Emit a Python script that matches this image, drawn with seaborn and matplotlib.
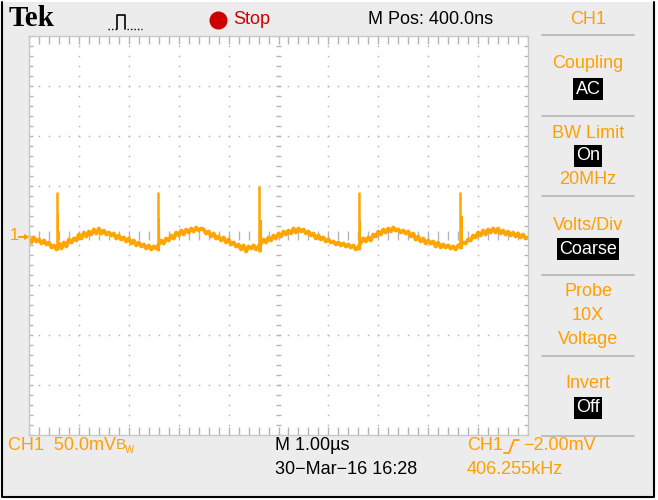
import numpy as np
import matplotlib.pyplot as plt
import seaborn as sns

# CH1 trace, mV, one sample every 0.05 us across the 10 us screen
ch1_mv = [
    -3, -7, -2, -6, -4, -8, -5, -9, -7, -12, -10, -14,
    -8, -13, -7, -11, -4, -7, -3, -5, 1, -3, 3, -1, 4, 1, 6, 2, 7, 2,
    5, 1, 3, 0, 2, -3, 0, -4, -2, -6, -3, -8, -5, -10, -7, -11, -9, -13,
    -10, -14, -11, -13,
    -9, -5, -8, -3, -5, 0, -3, 3, 0, 5, 1, 6, 3, 7, 4, 8, 5, 7,
    6, 2, 4, -1, 2, -3, -1, -5, -2, -7, -4, -9, -7, -11, -9, -14, -10, -16,
    -11, -13, -10, -14, -11,
    -8, -4, -7, -2, -5, 0, -3, 2, -1, 4, 1, 5, 2, 7, 3, 7, 4,
    6, 2, 4, 0, 2, -3, 0, -4, -2, -6, -4, -7, -6, -9, -7, -10, -8, -11,
    -9, -12, -10, -14, -12,
    -7, -3, -6, -2, -5, 1, -1, 4, 1, 6, 3, 7, 4, 8, 5, 6, 3,
    5, 2, 4, -1, 2, -4, -1, -6, -3, -8, -5, -8, -6, -11, -7, -12, -9, -12,
    -10, -13, -11, -14, -10,
    -9, -7, -8, -4, -5, 0, -2, 3, 0, 5, 1, 6, 3, 7, 3, 7, 2,
    5, 1, 4, 0, 3, -1, 2, -2, 1, -3, -2,
]
spike_us = [0.56, 2.585, 4.61, 6.61, 8.64]
spike_top_mv = [44, 44, 50, 44, 44]
spike_low_mv = [-15, -16, -17, -15, -14]
shoulder_mv = [22, 18, 16, 15, 20]

BG = "#ECECEC"
ORANGE = "#FFA000"
TRACE = "#FFA500"
GRID = "#B4B4B4"
FS = 13

sns.set_style("white")
plt.rcParams["font.family"] = ["Liberation Sans", "DejaVu Sans"]

fig = plt.figure(figsize=(6.58, 5.0), dpi=100)
fig.patch.set_facecolor("white")

# full-figure axes in pixel coordinates for the bezel and all labels
bg = fig.add_axes([0, 0, 1, 1])
bg.set_xlim(0, 658)
bg.set_ylim(500, 0)
bg.axis("off")
bg.add_patch(plt.Rectangle((2, 2), 652, 494, facecolor=BG, edgecolor="none"))
bg.plot([2, 2, 654, 654], [2, 497, 497, 2], color="black", lw=1.5)

# screen
scr = fig.add_axes([29 / 658, 65 / 500, 499 / 658, 399 / 500])
scr.set_facecolor("white")
scr.set_xlim(0, 10)
scr.set_ylim(-200, 200)
scr.set_xticks([])
scr.set_yticks([])
for s in scr.spines.values():
    s.set_color("#C8C8C8")
    s.set_linewidth(1)

# dotted graticule
ys = np.arange(-200, 201, 10)
xs = np.arange(0, 10.01, 0.2)
for xv in range(1, 10):
    if xv != 5:
        scr.plot([xv] * len(ys), ys, ls="none", marker="s", ms=1.1, color=GRID, mew=0)
for yv in range(-150, 151, 50):
    if yv != 0:
        scr.plot(xs, [yv] * len(xs), ls="none", marker="s", ms=1.1, color=GRID, mew=0)
# centre cross and border ticks
scr.hlines(ys, 5 - 0.05, 5 + 0.05, color=GRID, lw=1)
scr.vlines(xs, -5, 5, color=GRID, lw=1)
scr.hlines(ys, 0, 0.08, color=GRID, lw=1)
scr.hlines(ys, 10 - 0.08, 10, color=GRID, lw=1)
scr.vlines(xs, 200 - 8, 200, color=GRID, lw=1)
scr.vlines(xs, -200, -200 + 8, color=GRID, lw=1)

t_us = np.linspace(0, 10, len(ch1_mv))
sns.lineplot(x=t_us, y=ch1_mv, ax=scr, color=TRACE, lw=2.8)
scr.vlines(spike_us, spike_low_mv, spike_top_mv, color=TRACE, lw=1.8)
scr.vlines(np.array(spike_us) + 0.03, spike_low_mv, shoulder_mv, color=TRACE, lw=1.5)

# top bar
bg.text(9, 19, "Tek", family="Liberation Serif", weight="bold", fontsize=21,
        va="center", ha="left", color="black")
bg.plot([108, 117], [29, 29], color="black", lw=1, ls=(0, (1, 1.5)))
bg.plot([117, 117, 125, 125], [29, 15, 15, 29], color="black", lw=1.2)
bg.plot([127, 142], [29, 29], color="black", lw=1, ls=(0, (1, 1.5)))
bg.plot([218], [20], marker="o", ms=13, color="#CC0000", mew=0)
bg.text(233, 20, "Stop", fontsize=FS, color="#CC0000", va="center", ha="left")
bg.text(368, 19, "M Pos: 400.0ns", fontsize=FS, color="black", va="center", ha="left")
bg.text(588, 19, "CH1", fontsize=FS, color=ORANGE, va="center", ha="center")
bg.plot([259, 259], [37, 44], color="black", lw=1.5)
bg.plot([259], [45], marker="v", ms=6, color="black", mew=0)

# CH1 ground marker
bg.text(10, 236, "1", fontsize=12, color=ORANGE, va="center", ha="left")
bg.plot([19, 27], [237, 237], color=ORANGE, lw=1.5)
bg.plot([27], [237], marker=">", ms=5, color=ORANGE, mew=0)

# right menu
for yy in [35, 116, 196, 275, 356, 436]:
    bg.plot([542, 634], [yy, yy], color="#BEBEBE", lw=1.5)
menu = [(63, "Coupling", False), (89, "AC", True),
        (133, "BW Limit", False), (156, "On", True), (179, "20MHz", False),
        (225, "Volts/Div", False), (249, "Coarse", True),
        (292, "Probe", False), (316, "10X", False), (340, "Voltage", False),
        (384, "Invert", False), (408, "Off", True)]
for yy, label, boxed in menu:
    if boxed:
        bg.text(588, yy, label, fontsize=FS, color="white", va="center", ha="center",
                bbox=dict(boxstyle="square,pad=0.12", fc="black", ec="none"))
    else:
        bg.text(588, yy, label, fontsize=FS, color=ORANGE, va="center", ha="center")

# bottom status
bg.text(8, 446, "CH1  50.0mV", fontsize=FS, color=ORANGE, va="center", ha="left")
bg.text(116, 445, "B", fontsize=11, color=ORANGE, va="center", ha="left")
bg.text(125, 450, "W", fontsize=7, color=ORANGE, va="center", ha="left")
bg.text(275, 446, "M 1.00µs", fontsize=FS, color="black", va="center", ha="left")
bg.text(275, 470, "30\u2212Mar\u221216 16:28", fontsize=FS, color="black", va="center", ha="left")
bg.text(467, 446, "CH1", fontsize=FS, color=ORANGE, va="center", ha="left")
bg.plot([504, 509, 514, 519], [453, 453, 440, 440], color=ORANGE, lw=1.3)
bg.text(523, 446, "\u22122.00mV", fontsize=FS, color=ORANGE, va="center", ha="left")
bg.text(467, 470, "406.255kHz", fontsize=FS, color=ORANGE, va="center", ha="left")

fig.savefig("out.png", dpi=100, facecolor=fig.get_facecolor())
